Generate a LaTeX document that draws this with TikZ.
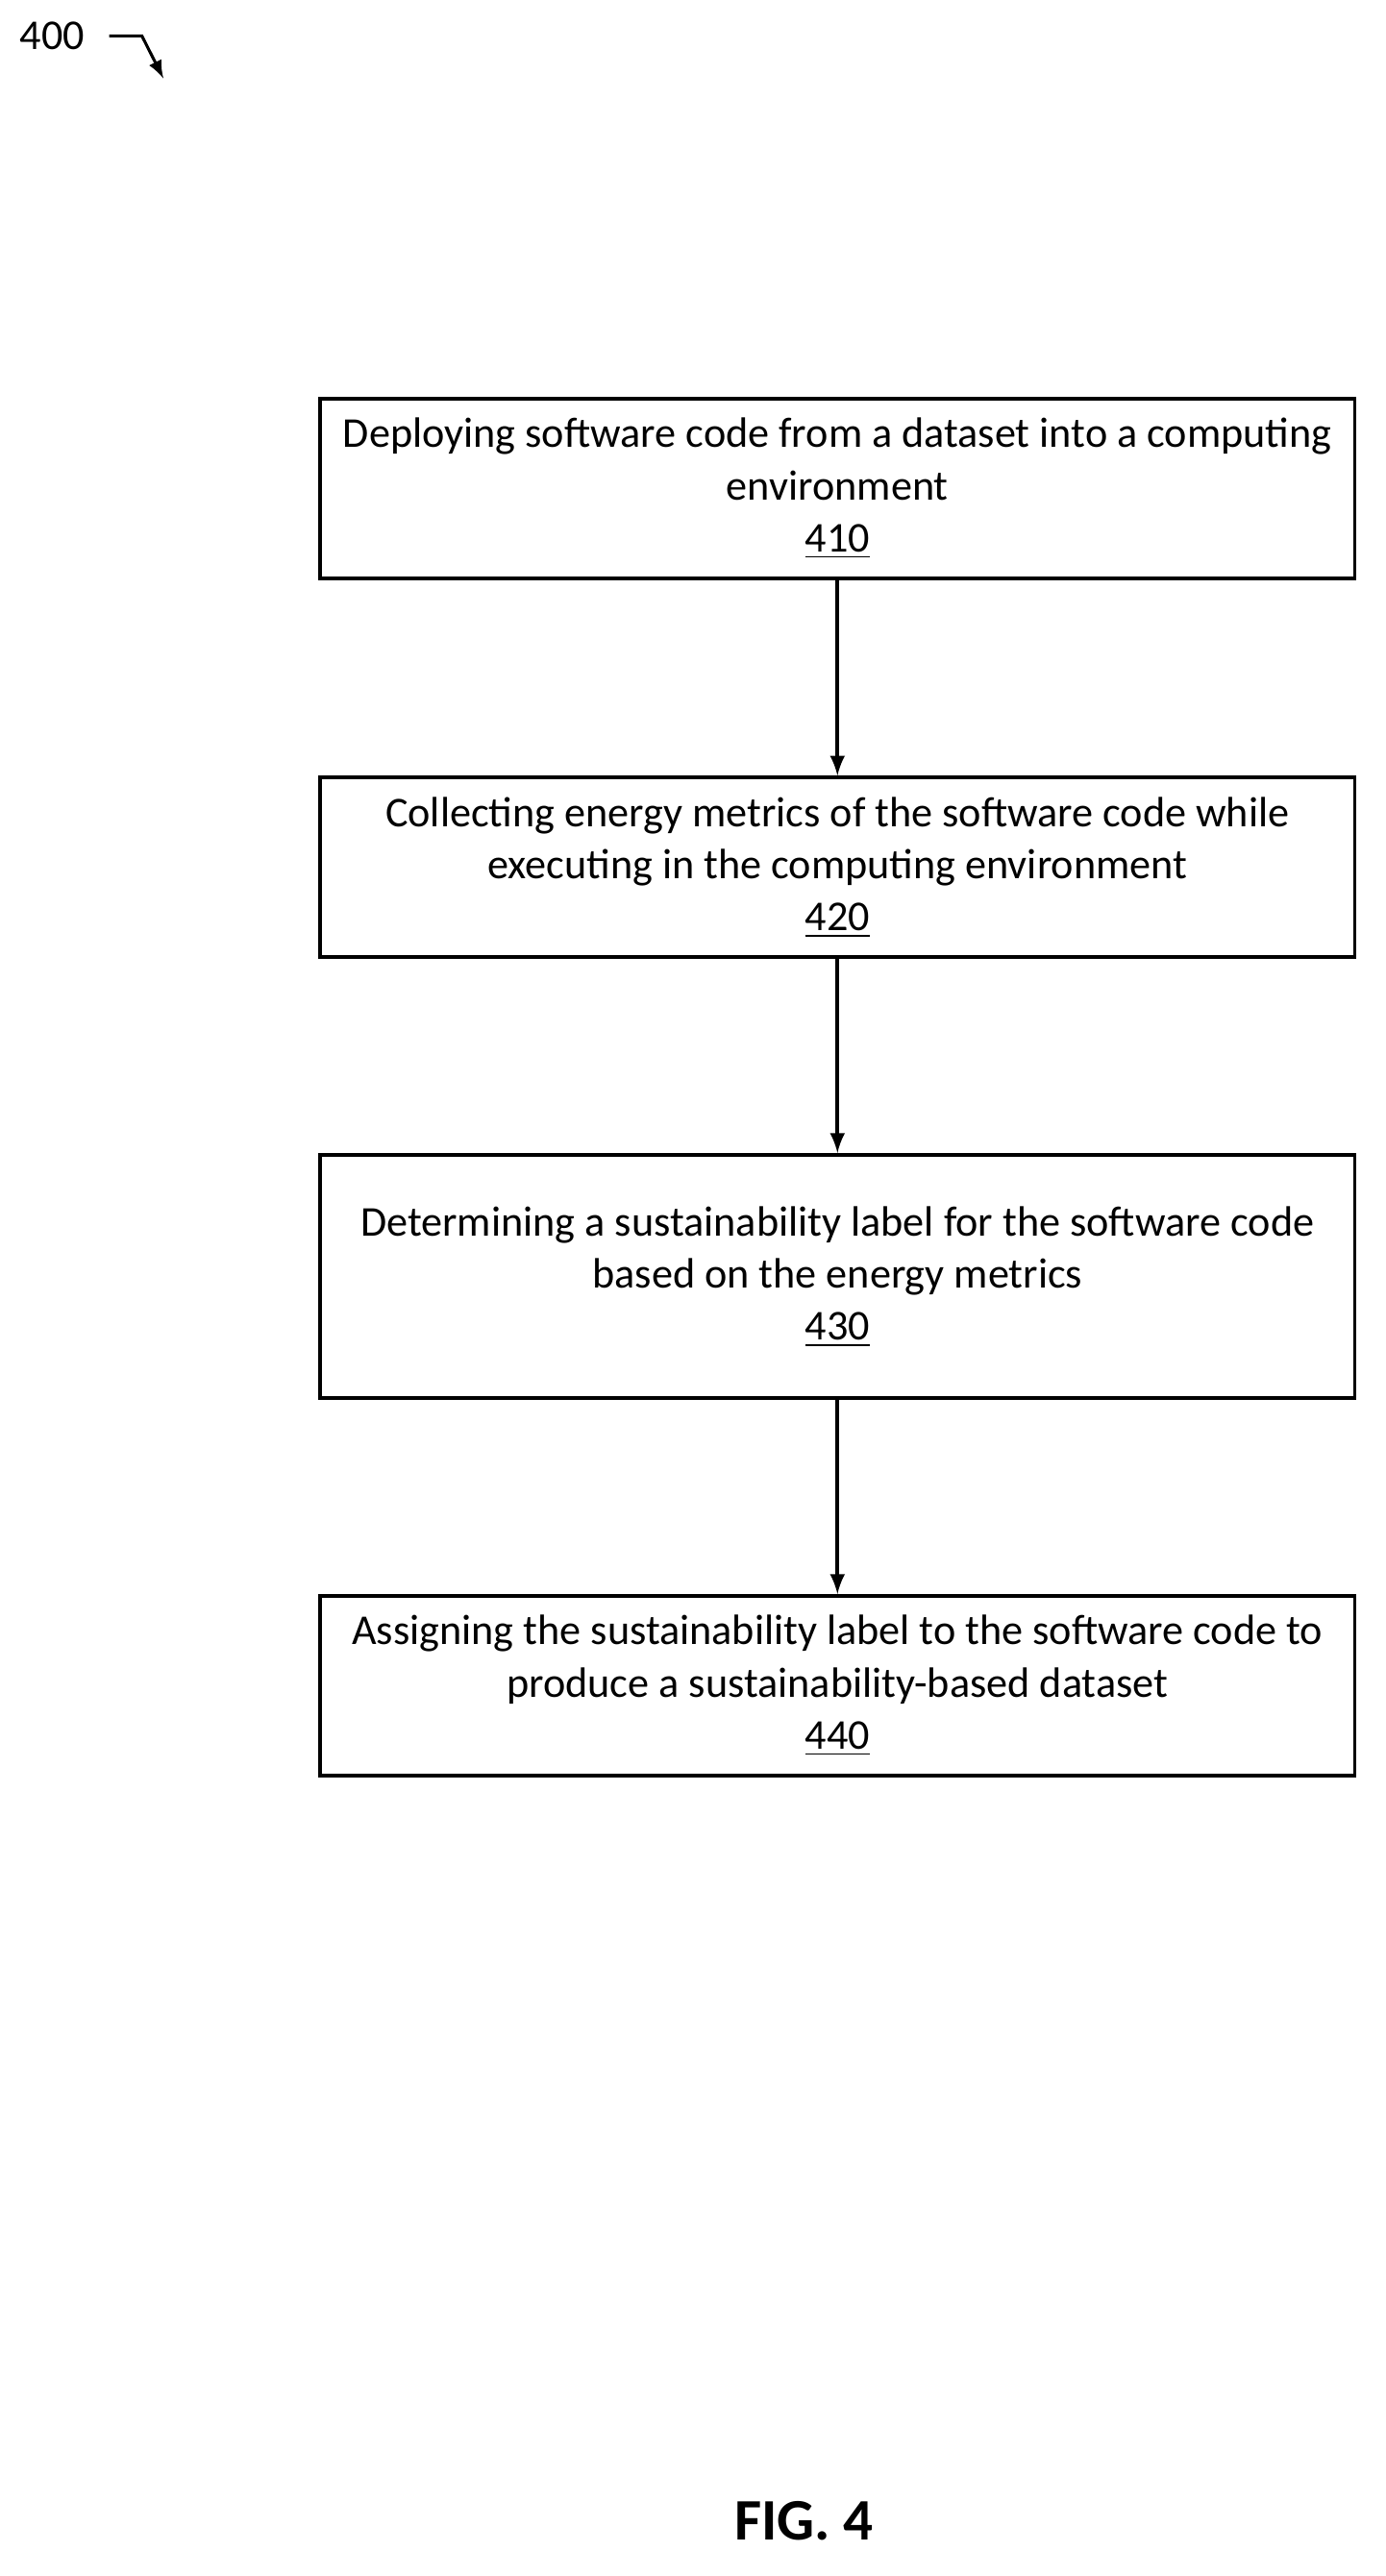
\documentclass[tikz,border=0pt]{standalone}
\usepackage{fontspec}
\setmainfont{Carlito}
\usetikzlibrary{positioning}
\begin{document}
\begin{tikzpicture}[x=0.5pt,y=-0.5pt,
  stepbox/.style={draw,line width=1.1pt,minimum width=316.5pt,align=center,
    font=\fontsize{13}{16}\selectfont,inner sep=0pt},
  flow/.style={-latex,line width=1.1pt}]
	\useasboundingbox (0,0) rectangle (848,1577);
	\node[stepbox,minimum height=55pt] (410) at (512.5,299) {Deploying software code from a dataset into a computing\\environment\\\underline{410}};
	\node[stepbox,minimum height=55pt] (420) at (512.5,531) {Collecting energy metrics of the software code while\\executing in the computing environment\\\underline{420}};
	\node[stepbox,minimum height=74.5pt] (430) at (512.5,781.5) {Determining a sustainability label for the software code\\based on the energy metrics\\\underline{430}};
	\node[stepbox,minimum height=55pt] (440) at (512.5,1032) {Assigning the sustainability label to the software code to\\produce a sustainability-based dataset\\\underline{440}};
	\draw[flow] (410) -- (420);
	\draw[flow] (420) -- (430);
	\draw[flow] (430) -- (440);
	\node[font=\fontsize{13}{16}\selectfont] (400) at (32,22) {400};
	\coordinate (tip) at (100,48);
	\draw[flow,line width=0.9pt] (400.east) ++(4pt,0) -- ++(10pt,0) -- (tip);
	\node[font=\bfseries\fontsize{18}{22}\selectfont] (fig) at (492,1543) {FIG. 4};
\end{tikzpicture}
\end{document}
